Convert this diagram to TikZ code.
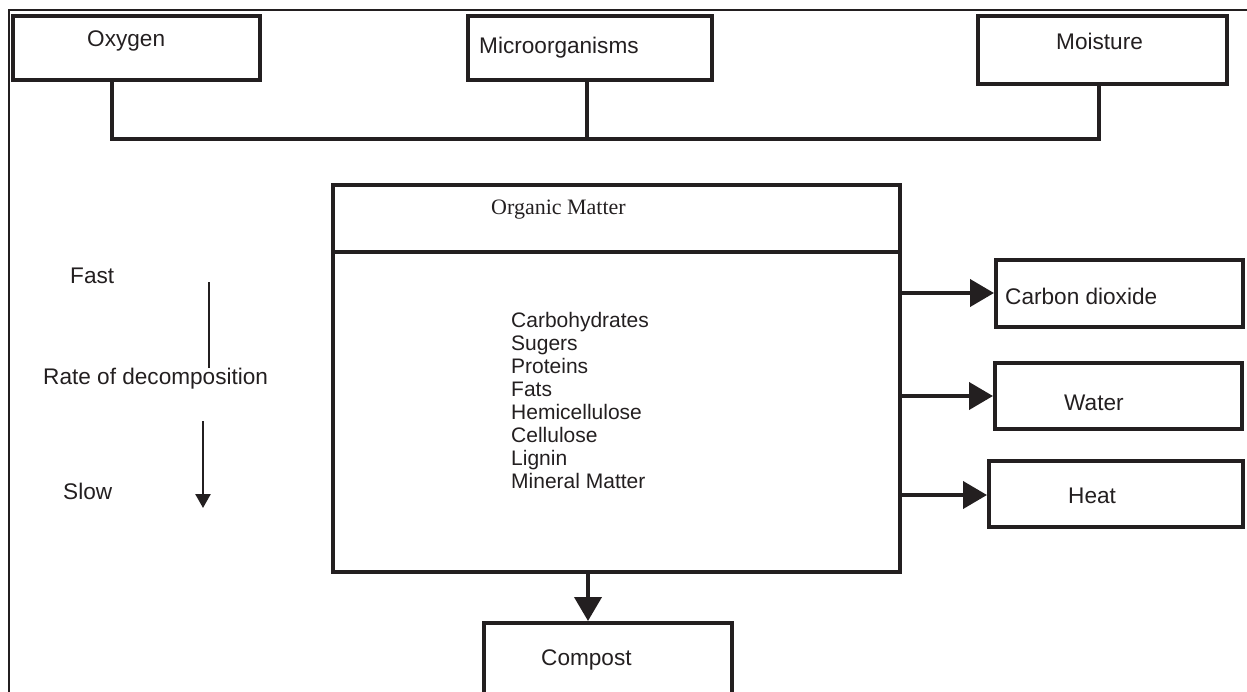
\documentclass[tikz,border=0pt]{standalone}
\usepackage{fontspec}
\setmainfont{Liberation Sans}
\newfontfamily\romanfont{Liberation Serif}
\usetikzlibrary{arrows.meta}
\definecolor{ink}{HTML}{231F20}

\begin{document}
\begin{tikzpicture}[
    x=1pt, y=-1pt,
    box/.style={rectangle, draw=ink, line width=4pt, inner sep=0pt},
    lbl/.style={anchor=base west, inner sep=0pt, text=ink,
                font=\fontsize{22.6}{27}\selectfont},
    listtxt/.style={lbl, font=\fontsize{21}{23}\selectfont},
    conn/.style={draw=ink, line width=4pt, line join=miter},
    arr/.style={conn, -{Triangle[length=24pt, width=27pt]}},
    rate/.style={draw=ink, line width=2.5pt},
    frame/.style={draw=ink, line width=2.5pt}
]
    \clip (0,0) rectangle (1247,691);

    % outer frame
    \draw[frame] (9,720) -- (9,10) -- (1270,10);

    % inputs
    \node[box, minimum width=247, minimum height=64] (oxy) at (136.5,48) {};
    \node[box, minimum width=244, minimum height=64] (micro) at (590,48) {};
    \node[box, minimum width=249, minimum height=68] (moist) at (1102.5,50) {};
    \node[lbl] (oxyt) at (87,46) {Oxygen};
    \node[lbl] (microt) at (479,53) {Microorganisms};
    \node[lbl] (moistt) at (1056,49) {Moisture};

    \coordinate (busL) at (112,139);
    \coordinate (busR) at (1099,139);
    \draw[conn] (oxy.south -| busL) -- (busL) -- (busR) -- (moist.south -| busR);
    \draw[conn] ([xshift=-3pt]micro.south) -- ([xshift=-3pt]micro.south |- busL);

    % organic matter
    \node[box, minimum width=567, minimum height=387] (org) at (616.5,378.5) {};
    \draw[conn] (org.west |- 0,252) -- (org.east |- 0,252);
    \node[lbl, font=\romanfont\fontsize{22}{26}\selectfont] (orgt) at (491,214) {Organic Matter};
    \foreach \what [count=\i from 0] in {Carbohydrates, Sugers, Proteins, Fats,
        Hemicellulose, Cellulose, Lignin, Mineral Matter}
        \node[listtxt] (part\i) at (511,{327+23.1*\i}) {\what};

    % rate of decomposition
    \node[lbl] (fast) at (70,283) {Fast};
    \node[lbl] (ratet) at (43,384) {Rate of decomposition};
    \node[lbl] (slow) at (63,499) {Slow};
    \coordinate (rateA) at (209,282);
    \coordinate (rateB) at (209,368);
    \coordinate (rateC) at (203,421);
    \coordinate (rateD) at (203,508);
    \draw[rate] (rateA) -- (rateB);
    \draw[rate, -{Triangle[length=14pt, width=15pt]}] (rateC) -- (rateD);

    % products
    \node[box, minimum width=247, minimum height=67] (co2) at (1119.5,293.5) {};
    \node[box, minimum width=247, minimum height=66] (water) at (1118.5,396) {};
    \node[box, minimum width=254, minimum height=66] (heat) at (1116,494) {};
    \node[box, minimum width=248, minimum height=80] (compost) at (608,663) {};
    \node[lbl] (co2t) at (1005,304) {Carbon dioxide};
    \node[lbl] (watert) at (1064,410) {Water};
    \node[lbl] (heatt) at (1068,503) {Heat};
    \node[lbl] (compostt) at (541,665) {Compost};

    \draw[arr] (org.east |- 0,293) -- (co2.west |- 0,293);
    \draw[arr] (org.east |- water.west) -- (water.west);
    \draw[arr] ([xshift=-4pt]org.east |- 0,495) -- (heat.west |- 0,495);
    \coordinate (drop) at (588,571);
    \draw[arr] (drop) -- (drop |- compost.north);
\end{tikzpicture}
\end{document}
